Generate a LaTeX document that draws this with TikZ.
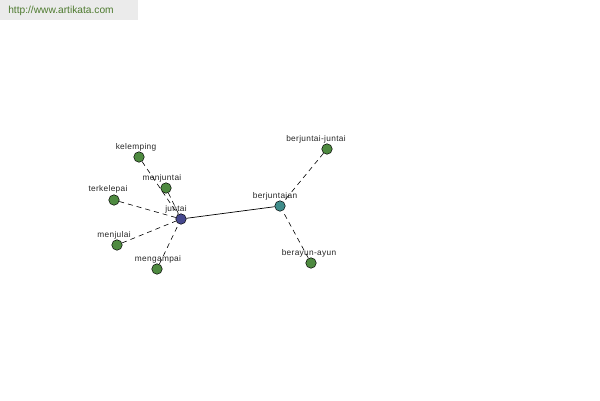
\documentclass[tikz,border=0pt]{standalone}
\usepackage{fontspec}
\setmainfont{Liberation Sans}
\newfontfamily\lblfont[LetterSpace=4]{Liberation Sans}
\begin{document}
\begin{tikzpicture}[x=1pt,y=-1pt,
  dot/.style={circle,draw=black,line width=0.5pt,minimum size=10.5pt,inner sep=0pt},
  leaf/.style={dot,fill=leafgreen},
  lbl/.style={font=\lblfont\fontsize{8.3}{9}\selectfont,text=black!85,inner sep=0pt},
  dashedge/.style={dashed,dash pattern=on 5pt off 4pt,line width=0.6pt},
  solidline/.style={line width=0.7pt}]
\definecolor{leafgreen}{HTML}{4E8A40}
\definecolor{hubblue}{HTML}{46488E}
\definecolor{hubteal}{HTML}{3F8C8A}
\definecolor{urlgreen}{HTML}{4D7A2E}
\useasboundingbox (0,0) rectangle (600,400);
\fill[white] (0,0) rectangle (600,400);
\fill[black!8] (0,0) rectangle (138,20);
\node[font=\fontsize{10.2}{11}\selectfont,text=urlgreen,inner sep=0pt] (url) at (61,11) {http://www.artikata.com};
% nodes
\node[dot,fill=hubblue] (juntai) at (181,219) {};
\node[dot,fill=hubteal] (berjuntajan) at (280,206) {};
\node[leaf] (kelemping) at (139,157) {};
\node[leaf] (menjuntai) at (166,188) {};
\node[leaf] (terkelepai) at (114,200) {};
\node[leaf] (menjulai) at (117,245) {};
\node[leaf] (mengampai) at (157,269) {};
\node[leaf] (bjj) at (327,149) {};
\node[leaf] (berayun) at (311,263) {};
% edges
\draw[solidline] (juntai) -- (berjuntajan);
\draw[dashedge] (kelemping) -- (juntai);
\draw[dashedge] (menjuntai) -- (juntai);
\draw[dashedge] (terkelepai) -- (juntai);
\draw[dashedge] (menjulai) -- (juntai);
\draw[dashedge] (mengampai) -- (juntai);
\draw[dashedge] (bjj) -- (berjuntajan);
\draw[dashedge] (berayun) -- (berjuntajan);
% labels
\node[lbl] (l1) at (176,209) {juntai};
\node[lbl] (l2) at (275,196) {berjuntajan};
\node[lbl] (l3) at (136,147) {kelemping};
\node[lbl] (l4) at (162,178) {menjuntai};
\node[lbl] (l5) at (108,189) {terkelepai};
\node[lbl] (l6) at (114,235) {menjulai};
\node[lbl] (l7) at (158,259) {mengampai};
\node[lbl] (l8) at (316,139) {berjuntai-juntai};
\node[lbl] (l9) at (309,253) {berayun-ayun};
\end{tikzpicture}
\end{document}
